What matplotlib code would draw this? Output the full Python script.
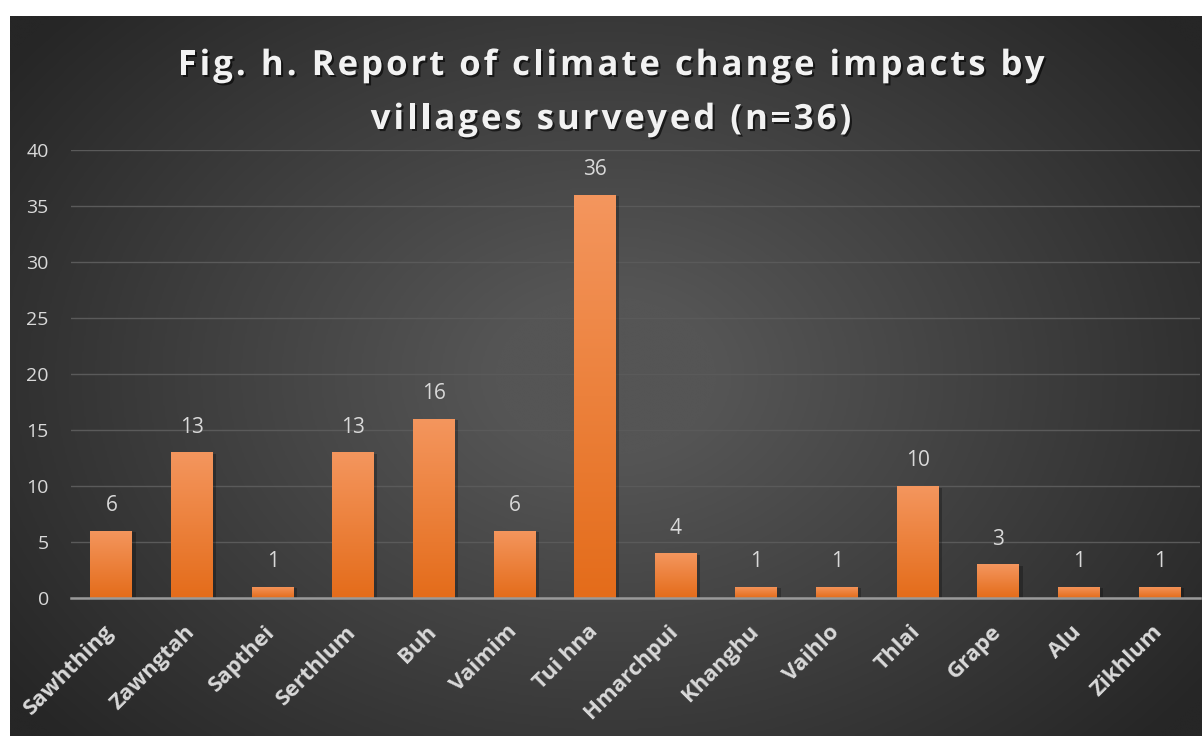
import numpy as np
import matplotlib
matplotlib.use("Agg")
import matplotlib.pyplot as plt
import matplotlib.patheffects as pe
from matplotlib.colors import LinearSegmentedColormap
from matplotlib.font_manager import FontProperties
from matplotlib.transforms import ScaledTranslation

villages = ["Sawhthing", "Zawngtah", "Sapthei", "Serthlum", "Buh", "Vaimim",
            "Tui hna", "Hmarchpui", "Khanghu", "Vaihlo", "Thlai", "Grape",
            "Alu", "Zikhlum"]
reports = [6, 13, 1, 13, 16, 6, 36, 4, 1, 1, 10, 3, 1, 1]
y_ticks = [0, 5, 10, 15, 20, 25, 30, 35, 40]
title_lines = ["Fig. h. Report of climate change impacts by",
               "villages surveyed (n=36)"]

W, H = 1202, 736
fig = plt.figure(figsize=(W / 100, H / 100), dpi=100)
fig.patch.set_facecolor("white")

# dark radial background panel
bg = fig.add_axes([10 / W, 0, (W - 10) / W, (H - 16) / H])
bg.set_axis_off()
yy, xx = np.mgrid[0:1:400j, 0:1:600j]
r = np.sqrt(((xx - 0.5) / 0.62) ** 2 + ((yy - 0.5) / 0.75) ** 2)
shade = np.clip(1 - r, 0, 1)
bg_cmap = LinearSegmentedColormap.from_list("bg", ["#262626", "#555555"])
bg.imshow(shade, cmap=bg_cmap, aspect="auto", extent=[0, 1, 0, 1],
          vmin=0, vmax=0.85, interpolation="bicubic")
bg.set_xlim(0, 1)
bg.set_ylim(0, 1)

ax = fig.add_axes([71 / W, (H - 598) / H, (1200 - 71) / W, (598 - 150) / H])
ax.patch.set_alpha(0)
x = np.arange(len(villages))
bars = ax.bar(x, reports, width=0.52, color="#ED7D31", zorder=3,
              edgecolor="none")

bar_cmap = LinearSegmentedColormap.from_list("bar", ["#E46C1A", "#F4965E"])
grad = np.linspace(0, 1, 256).reshape(-1, 1)
for b in bars:
    x0, w, h = b.get_x(), b.get_width(), b.get_height()
    # soft shadow on the right/bottom
    ax.bar(x0 + w / 2 + 0.04, h, width=w, bottom=-0.15, color="black",
           alpha=0.25, zorder=2, edgecolor="none")
    im = ax.imshow(grad, extent=[x0, x0 + w, 0, h], origin="lower",
                   cmap=bar_cmap, aspect="auto", zorder=4)
    im.set_clip_path(b)

for xi, v in zip(x, reports):
    ax.text(xi, v + 1.3, str(v), ha="center", va="bottom", fontsize=15,
            color="#d9d9d9", family="Open Sans", zorder=5)

ax.set_xlim(-0.5, len(villages) - 0.5)
ax.set_ylim(0, 40)
ax.set_yticks(y_ticks)
ax.set_yticklabels([str(t) for t in y_ticks], fontsize=14, color="#d9d9d9",
                   family="Open Sans")
ax.yaxis.grid(True, color="#5a5a5a", linewidth=1.0, zorder=0)
ax.set_axisbelow(True)
ax.tick_params(axis="y", length=0, pad=16)
ax.tick_params(axis="x", length=0, pad=6)
ax.set_xticks(x)
ax.set_xticklabels(villages, rotation=45, ha="right", va="top",
                   rotation_mode="anchor", fontsize=16, fontweight="bold",
                   color="#d9d9d9", family="Open Sans")
shift = ScaledTranslation(-0.08, -0.15, fig.dpi_scale_trans)
for lab in ax.get_xticklabels():
    lab.set_transform(lab.get_transform() + shift)
for s in ["top", "right", "left"]:
    ax.spines[s].set_visible(False)
ax.spines["bottom"].set_color("#9a9a9a")
ax.spines["bottom"].set_linewidth(1.8)
ax.spines["bottom"].set_zorder(6)

# title with widened letter spacing, placed glyph by glyph
renderer = fig.canvas.get_renderer()
tfont = FontProperties(family="Open Sans", weight="bold", size=25)


def text_width(s):
    return renderer.get_text_width_height_descent(s, tfont, ismath=False)[0]


line1_px = 867.0
tracking = (line1_px - text_width(title_lines[0])) / (len(title_lines[0]) - 1)
shadow = [pe.SimplePatchShadow(offset=(1.5, -1.5), shadow_rgbFace="black",
                               alpha=0.6), pe.Normal()]
centre_x = 611.0
for line, base_y in zip(title_lines, [75.0, 129.0]):
    total = text_width(line) + tracking * (len(line) - 1)
    start = centre_x - total / 2
    for i, ch in enumerate(line):
        if ch == " ":
            continue
        left = text_width(line[:i + 1]) - text_width(ch) + tracking * i
        fig.text((start + left) / W, 1 - base_y / H, ch, ha="left",
                 va="baseline", fontproperties=tfont, color="#f2f2f2",
                 path_effects=shadow)

fig.savefig("out.png", dpi=100, facecolor=fig.get_facecolor())
